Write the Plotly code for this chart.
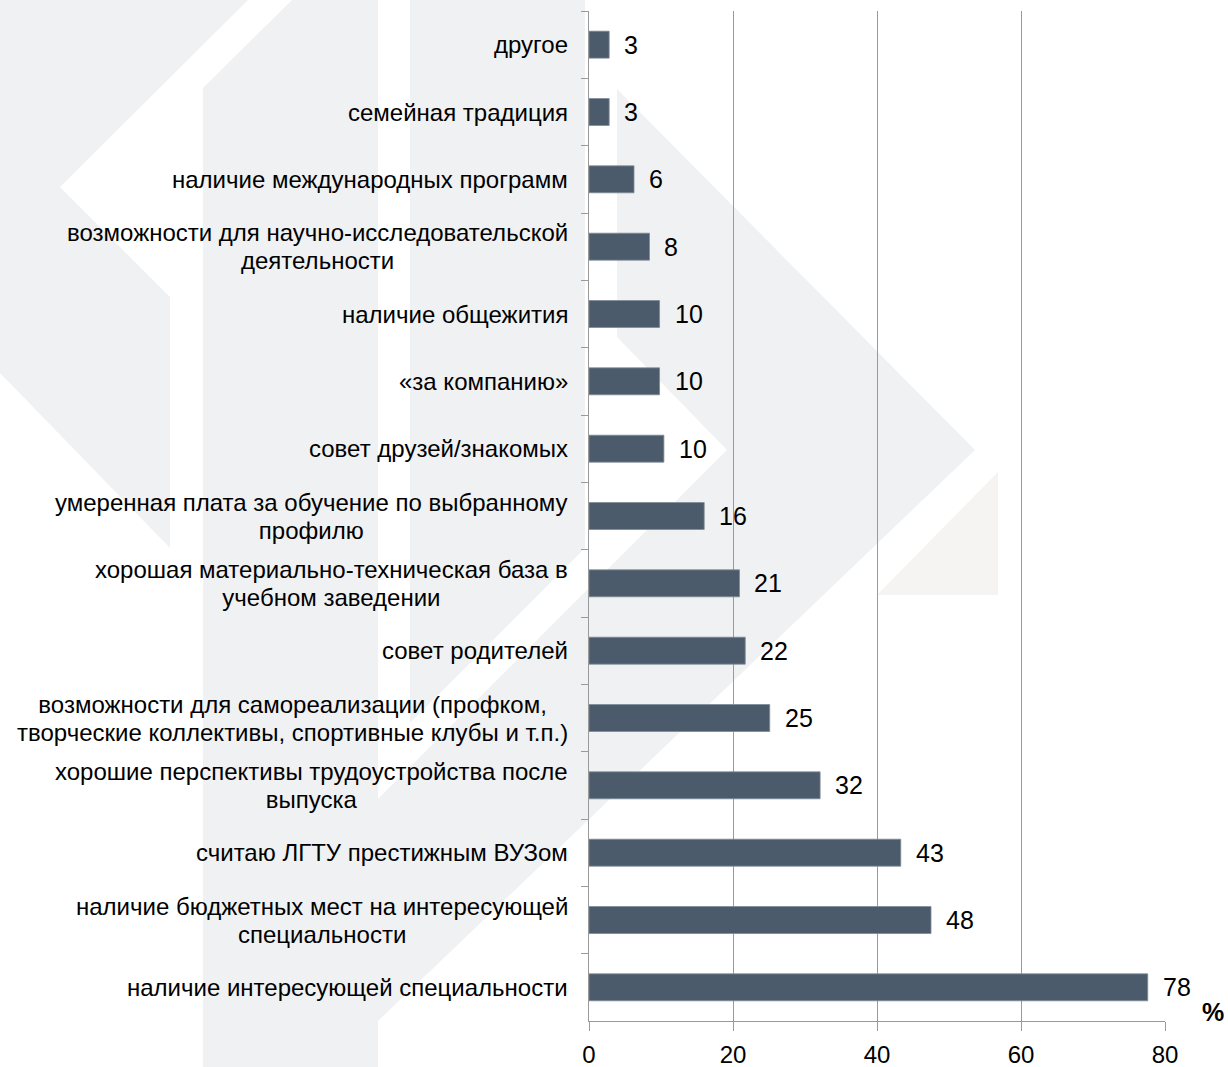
import plotly.graph_objects as go

# ---------------- data ----------------
categories = [
    "другое",
    "семейная традиция",
    "наличие международных программ",
    "возможности для научно-исследовательской<br>деятельности",
    "наличие общежития",
    "«за компанию»",
    "совет друзей/знакомых",
    "умеренная плата за обучение по выбранному<br>профилю",
    "хорошая материально-техническая база в<br>учебном заведении",
    "совет родителей",
    "возможности для самореализации (профком,<br>творческие коллективы, спортивные клубы и т.п.)",
    "хорошие перспективы трудоустройства после<br>выпуска",
    "считаю ЛГТУ престижным ВУЗом",
    "наличие бюджетных мест на интересующей<br>специальности",
    "наличие интересующей специальности",
]
bar_values = [2.8, 2.8, 6.25, 8.4, 9.8, 9.8, 10.4, 16.0, 20.9, 21.7, 25.1, 32.1, 43.3, 47.5, 77.6]
value_labels = ["3", "3", "6", "8", "10", "10", "10", "16", "21", "22", "25", "32", "43", "48", "78"]
x_ticks = [0, 20, 40, 60, 80]
unit_label = "%"

# ---------------- layout geometry ----------------
W, H = 1228, 1067
L, R, T, B = 589, 63, 11, 46
PW, PH = W - L - R, H - T - B

def px(x, y):
    return (x - L) / PW, 1 - (y - T) / PH

def poly_path(pts):
    parts = []
    for i, (x, y) in enumerate(pts):
        xp, yp = px(x, y)
        parts.append(("M" if i == 0 else "L") + f"{xp:.5f},{yp:.5f}")
    return " ".join(parts) + " Z"

# decorative watermark polygons (pixel coordinates)
watermark = [
    ([(0, 0), (248, 0), (60, 187), (170, 297), (170, 548), (0, 373)], "#f0f1f3"),
    ([(292, 0), (378, 0), (378, 1067), (203, 1067), (203, 88)], "#f0f1f3"),
    ([(410, 0), (585, 0), (585, 548), (410, 723)], "#f0f1f3"),
    ([(617, 89), (975, 450), (378, 1021), (378, 799), (727, 450), (617, 337)], "#f0f1f3"),
    ([(998, 472), (998, 595), (877, 595)], "#f5f4f2"),
]

shapes = [
    dict(type="path", xref="paper", yref="paper", path=poly_path(p),
         fillcolor=c, line=dict(width=0), layer="below")
    for p, c in watermark
]

FONT = "Liberation Sans, Arial, sans-serif"
AXIS_GRAY = "#9a9a9a"
LABEL_PX = 24      # glyph size of category labels
LABEL_BASE = 21.5  # base size -> line spacing 1.3 * 21.5 = 28 px

fig = go.Figure()
fig.add_trace(go.Bar(
    x=bar_values,
    y=categories,
    orientation="h",
    marker=dict(color="#4b5b6b", line=dict(color="#7d8a97", width=0.8)),
    width=0.4,
    hoverinfo="x+y",
    showlegend=False,
))

annotations = []
for cat, v, lab in zip(categories, bar_values, value_labels):
    annotations.append(dict(
        x=v, y=cat, xref="x", yref="y", text=lab, showarrow=False,
        xanchor="left", yanchor="middle", xshift=13,
        font=dict(family=FONT, size=25, color="#000000"),
    ))
    styled = "<br>".join(
        f"<span style='font-size:{LABEL_PX}px'>{ln}</span>" for ln in cat.split("<br>")
    )
    annotations.append(dict(
        x=0, y=cat, xref="paper", yref="y", text=styled, showarrow=False,
        xanchor="right", yanchor="middle", xshift=-19, align="center",
        font=dict(family=FONT, size=LABEL_BASE, color="#000000"),
    ))

xp_pct, yp_pct = px(1213, 1012)
annotations.append(dict(
    x=xp_pct, y=yp_pct, xref="paper", yref="paper", text=f"<b>{unit_label}</b>",
    showarrow=False, xanchor="center", yanchor="middle",
    font=dict(family=FONT, size=25, color="#000000"),
))

fig.update_layout(
    width=W, height=H,
    margin=dict(l=L, r=R, t=T, b=B, pad=0, autoexpand=False),
    paper_bgcolor="#ffffff",
    plot_bgcolor="rgba(0,0,0,0)",
    font=dict(family=FONT, size=24, color="#000000"),
    bargap=0.6,
    shapes=shapes,
    annotations=annotations,
    xaxis=dict(
        range=[0, 80],
        tickvals=x_ticks,
        ticktext=[str(t) for t in x_ticks],
        showgrid=True, gridcolor=AXIS_GRAY, gridwidth=1,
        showline=True, linecolor=AXIS_GRAY, linewidth=1,
        ticks="outside", ticklen=9, tickcolor=AXIS_GRAY, tickwidth=1,
        ticklabelstandoff=3,
        tickfont=dict(family=FONT, size=24, color="#000000"),
        zeroline=False,
        automargin=False,
        fixedrange=True,
    ),
    yaxis=dict(
        type="category",
        autorange="reversed",
        showline=True, linecolor=AXIS_GRAY, linewidth=1,
        ticks="outside", tickson="boundaries", ticklen=7,
        tickcolor=AXIS_GRAY, tickwidth=1,
        showticklabels=False,
        showgrid=False,
        zeroline=False,
        automargin=False,
        fixedrange=True,
    ),
)

fig.write_html(
    "out.html",
    config={"displayModeBar": False},
    post_script="document.body.style.margin='0';document.body.style.overflow='hidden';",
)
